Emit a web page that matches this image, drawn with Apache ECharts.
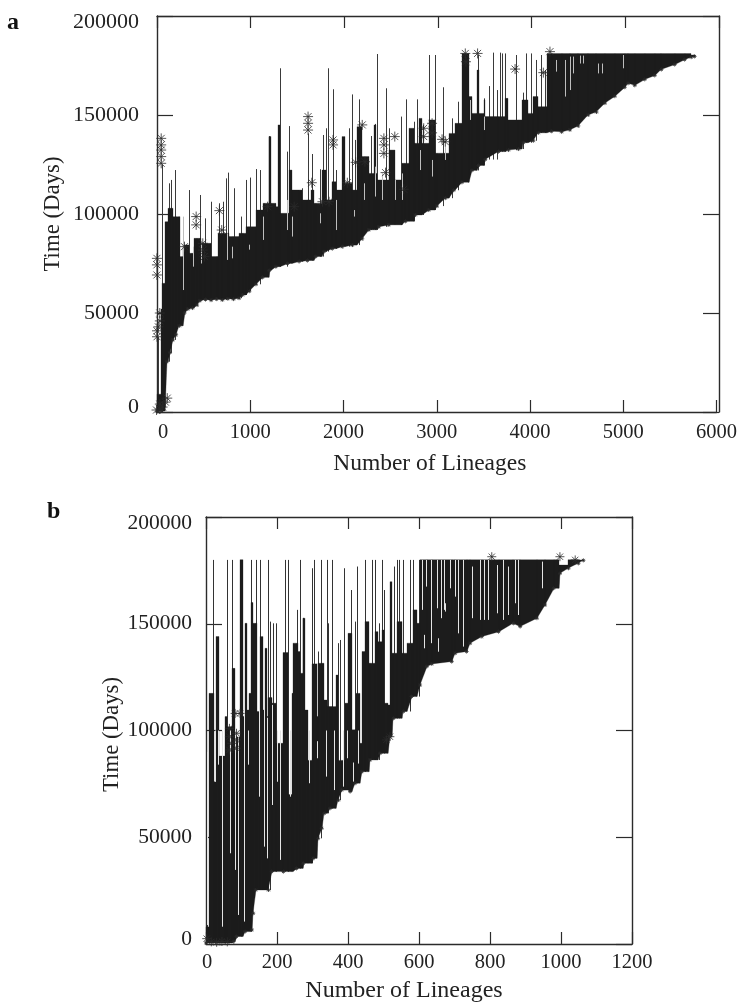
<!DOCTYPE html>
<html><head><meta charset="utf-8">
<style>html,body{margin:0;padding:0;background:#fff}#c{width:740px;height:1007px;filter:blur(0.35px)}</style>
<script src="https://cdn.jsdelivr.net/npm/echarts@6/dist/echarts.min.js"></script>
</head><body><div id="c"></div>
<script>
const xTicksA = [0,1000,2000,3000,4000,5000,6000];
const xTicksB = [0,200,400,600,800,1000,1200];
const yTicks = [0,50000,100000,150000,200000];

// Panel a: top of the solid body
const upperAX = [0,46,49,81,117,170,241,277,348,402,473,580,651,776,883,954,1061,1132,1196,1221,1275,1300,1317,1417,1453,1560,1649,1684,1774,1809,1880,1916,1987,2016,2094,2148,2201,2272,2326,2351,2362,2486,2557,2629,2700,2753,2807,2842,2914,2985,3128,3199,3270,3342,3377,3431,3448,3502,3520,3733,3769,3912,3983,4036,4090,4179,5729,5765];
const upperAY = [9000,52000,65000,96100,102900,98660,78500,84400,80150,87700,85200,78500,90250,88600,90250,93600,102000,105400,139100,105400,103700,145000,100350,122200,112100,107100,112100,105400,122200,107100,116300,112100,139100,115500,112100,144100,129000,120500,145000,120500,117200,132300,117200,125600,143300,135700,148300,135700,147500,130700,140700,145800,181000,159300,150800,172700,150800,157600,149200,158400,147500,157600,150800,159300,154200,181000,180300,180000];
// Panel a: bottom of the solid body
const lowerAX = [0,46,106,140,170,205,240,295,330,380,430,460,520,580,640,700,760,820,880,918,990,1061,1132,1203,1275,1400,1524,1613,1702,1791,1880,1987,2094,2201,2272,2379,2486,2664,2771,2914,3003,3092,3181,3270,3377,3448,3520,3662,3769,3876,3929,4036,4090,4232,4339,4428,4518,4624,4713,4803,4909,5016,5052,5123,5230,5337,5409,5551,5658,5729,5765];
const lowerAY = [300,500,25400,30000,36400,39000,43500,50000,52000,52500,54000,56200,56800,56500,57000,56600,57200,57000,57500,59100,61000,64500,68000,71500,73400,75000,76000,76500,78500,81000,82500,83500,84300,87500,92000,93500,94500,96300,99500,102000,104000,108000,112000,116000,122000,124500,127500,131500,132300,132800,136000,137000,141000,141800,141500,142500,144500,150000,151500,156000,159500,164000,166000,165000,168000,170000,173000,175500,178000,179200,179600];
// Panel a: thin lines rising above the body
const spikeAX = [8,49,124,152,192,348,462,516,584,662,712,740,765,829,897,958,1000,1061,1100,1314,1392,1417,1556,1617,1667,1749,1781,1809,1838,1891,1916,2059,2087,2123,2162,2297,2333,2358,2451,2493,2618,2671,2757,2793,2857,2914,2985,3064,3163,3228,3334,3438,3509,3562,3598,3641,3673,3705,3733,3847,3922,3958,4008,4061,4118,4161];
const spikeAY = [38000,125000,115500,117200,122200,112100,109600,97800,106200,105400,106200,118000,120900,113000,98700,117200,118400,122700,122200,173600,131500,144400,113000,140700,130300,122600,139900,143300,173600,163000,122200,143300,160400,137400,157900,139400,145500,180800,163500,143300,149200,157900,146600,157900,145000,180300,180300,164000,148300,156700,173600,180300,158400,164600,181500,162600,181500,181100,181100,180300,161300,181100,181100,177800,180300,172700];
// Panel a: pale slits inside the body
const gapAX = [277,384,473,751,804,990,1132,1389,1453,1745,1916,2112,2219,2337,2415,2557,2629,2825,2950,3092,3359,3502,4275,4375,4428,4464,4535,4571,4731,4767,4998];
const gapALow = [61600,73400,75000,76800,77600,82000,86900,91900,88600,95300,91900,98700,107100,108800,107100,107100,107100,122200,118900,127300,147500,142400,171900,159300,162600,171000,176000,176000,171000,171000,173600];
const gapAHigh = [98660,83500,85000,90250,83500,84500,98700,107100,98700,100350,107100,102000,115500,123900,120500,117200,120500,132300,127300,134000,157600,149200,177800,177800,179500,179500,180000,180000,176000,176000,180300];
// Panel a: asterisk marks
const starAX = [45,45,45,45,45,-1,-1,-1,1620,1620,1620,1888,1888,295,420,420,669,694,491,491,509,2201,1660,2041,2130,2230,2433,2433,2433,2550,2451,2860,2860,1774,1845,1186,1471,2646,3306,3313,3438,3840,4143,4214,3057,3092,2950,2950,0,0,-5,30,30,60,90,110,30,30,15];
const starAY = [138200,134900,132300,129000,125600,77600,74300,69200,149200,145800,142400,137400,134900,83500,98700,94500,101700,91900,85200,81800,78500,145000,115800,115800,126100,126400,138200,134900,130600,139100,120900,143300,139100,106200,106200,103700,103700,112500,181100,176900,181100,173200,171400,182000,137700,136500,145800,141000,41000,38000,1000,1500,4000,2500,5000,7000,46000,50000,43000];

// Panel b: top of the solid body
const upperBX = [0,9,23,28,37,54,60,74,82,96,103,110,115,122,127,133,143,152,160,166,171,176,185,197,218,232,241,246,257,265,272,279,288,298,312,316,333,340,354,365,373,392,399,410,422,434,439,448,459,476,485,495,502,512,518,525,537,553,567,582,593,603,993,1021,1049,1063];
const upperBY = [8000,117400,76000,144000,88000,106500,101800,129100,97000,180000,106500,150200,109600,117400,159900,150200,108900,144000,109600,138500,106500,115400,112800,94000,136500,70000,117400,140900,137000,126800,152600,109600,86000,131200,106500,131500,114300,111200,111200,126000,86000,112800,145500,100300,117400,94000,137000,151000,131500,146300,141600,147100,112800,112000,169700,136200,151000,136200,140900,156500,150200,180000,177500,180000,179900,179900];
// Panel b: bottom of the solid body
const lowerBX = [0,77,86,110,129,133,140,176,185,218,255,274,302,316,326,333,349,373,382,406,420,439,462,490,518,528,556,579,603,622,636,692,702,734,744,777,824,866,885,932,955,979,997,1021,1049,1063];
const lowerBY = [500,1100,3500,5800,6600,14400,25300,25300,33900,33900,35400,37800,40100,49500,54200,61200,63500,67400,72100,71400,75300,80700,86200,89300,97100,105700,108900,115900,121300,130000,131200,132300,136200,137000,140900,144000,146300,150200,148700,152600,158800,166600,173600,176000,178300,179700];
// Panel b: thin lines rising above the body
const spikeBX = [2,19,60,74,99,127,141,152,175,180,188,196,223,231,257,264,298,304,316,324,341,345,356,373,378,389,409,420,426,449,468,477,486,497,500,522,530,537,545,556,575,582,601];
const spikeBY = [49500,179900,179900,179900,179900,179900,179900,179900,179900,151000,150200,150200,179900,179900,156500,179900,176000,179900,137000,179900,179900,150200,179900,140900,142400,176000,165800,151000,176800,179900,179900,179900,150200,179900,165800,150000,176800,179900,179900,179900,179900,179900,179900];
// Panel b: pale slits inside the body
const gapBX = [4,24,35,44,68,82,89,108,119,149,163,171,185,201,209,237,290,312,337,361,385,396,415,429,608,615,619,634,652,653,661,671,672,688,702,711,725,749,772,783,794,819,838,852,871,880,946];
const gapBLow = [8900,76000,84000,8100,42500,34700,13600,10500,84000,69000,45600,40100,65100,76000,39400,69000,75300,87000,78400,72100,73700,87000,76000,84500,156500,138500,167400,140900,157250,136900,152600,156500,155700,166600,162700,145500,139300,152600,151800,151800,151800,154900,151800,154100,159600,154100,166600];
const gapBHigh = [90000,100000,100000,100000,100000,100000,100000,110000,100000,110000,110000,106000,112000,100000,100000,100000,100000,95000,100000,100000,100000,100000,85000,100000,179900,144800,179900,179900,179900,143200,179900,179900,159600,179900,179900,179900,179900,176800,179900,179900,179900,177500,179900,176800,179900,179900,179100];
// Panel b: asterisk marks
const starBX = [96,82,66,66,72,86,86,86,66,518,508,805,997,1040,2,15,30,45,60];
const starBY = [108000,108000,101000,97100,94000,98700,95600,91700,90900,97100,95600,181400,181400,179900,2500,1000,800,1200,1000];

const FONT = '"Liberation Serif",serif';
const INK = '#1c1c1c';

function stepAt(x, X, Y) {
  let v = Y[0];
  for (let i = 0; i < X.length; i++) { if (X[i] <= x) v = Y[i]; else break; }
  return v;
}
function columns(uX, uY, lX, lY) {
  const xs = Array.from(new Set(uX.concat(lX))).sort((a, b) => a - b);
  const out = [];
  for (let i = 0; i < xs.length - 1; i++) {
    const lo = stepAt(xs[i], lX, lY), lo2 = stepAt(xs[i + 1], lX, lY), hi = stepAt(xs[i], uX, uY);
    if (hi > lo) out.push([xs[i], xs[i + 1], lo, lo2, hi]);
  }
  return out;
}
function bodySeries(data, idx) {
  return { type: 'custom', xAxisIndex: idx, yAxisIndex: idx, silent: true, clip: false, z: 2, encode: { x: 0, y: 4 },
    renderItem(p, api) {
      const tl = api.coord([api.value(0), api.value(4)]), tr = api.coord([api.value(1), api.value(4)]);
      const bl = api.coord([api.value(0), api.value(2)]), br = api.coord([api.value(1), api.value(3)]);
      const x0 = Math.round(tl[0]), x1 = Math.max(Math.round(tr[0]), x0 + 1);
      return { type: 'polygon', shape: { points: [[x0, tl[1]], [x1, tr[1]], [x1, br[1]], [x0, bl[1]]] }, style: { fill: INK, stroke: INK, lineWidth: 0.3 } };
    }, data };
}
function lineSeries(data, idx, color, width, z) {
  return { type: 'custom', xAxisIndex: idx, yAxisIndex: idx, silent: true, clip: false, z, encode: { x: 0, y: 2 },
    renderItem(p, api) {
      const a = api.coord([api.value(0), api.value(1)]), b = api.coord([api.value(0), api.value(2)]);
      const x = Math.round(a[0]) + 0.5;
      return { type: 'line', shape: { x1: x, y1: a[1], x2: x, y2: b[1] }, style: { stroke: color, lineWidth: width } };
    }, data };
}
const ASTER = 'path://M0 -5L0 5M-5 0L5 0M-3.5 -3.5L3.5 3.5M-3.5 3.5L3.5 -3.5';
function starSeries(X, Y, idx, size) {
  return { type: 'scatter', xAxisIndex: idx, yAxisIndex: idx, silent: true, clip: false, z: 5, symbol: ASTER, symbolSize: size,
    itemStyle: { color: 'rgba(0,0,0,0)', borderColor: '#2a2a2a', borderWidth: 1 }, data: X.map((x, i) => [x, Y[i]]) };
}
const zip3 = (X, L, H) => X.map((x, i) => [x, L[i], H[i]]);
const spikes = (X, Y, lX, lY) => X.map((x, i) => [x, Math.max(stepAt(x, lX, lY), 0), Y[i]]);

const axisLine = { show: true, onZero: false, lineStyle: { color: '#2b2b2b', width: 1.4 } };
const tickStyle = { color: '#2b2b2b', width: 1.2 };
const label = { color: '#222', fontFamily: FONT, fontSize: 20.5 };
function xAxis(grid, max, interval, pos, ticksLen, margin, gap, show, zeroPad, namePad, nameSize) {
  return { type: 'value', gridIndex: grid, position: pos, min: 0, max, interval, splitLine: { show: false },
    axisLine, axisTick: { inside: true, length: ticksLen, lineStyle: tickStyle },
    axisLabel: show ? { ...label, margin, formatter: v => v === 0 ? '{z|0}' : String(v), rich: { z: { ...label, padding: [0, 0, 0, zeroPad] } } } : { show: false },
    name: show ? 'Number of Lineages' : '', nameLocation: 'middle', nameGap: gap, nameMoveOverlap: false,
    nameTextStyle: { ...label, fontSize: nameSize || 22, padding: [0, namePad, 0, 0] } };
}
function yAxis(grid, pos, margin, gap, show, namePad, labelSize) {
  const l = { ...label, fontSize: labelSize || 20 };
  return { type: 'value', gridIndex: grid, position: pos, min: 0, max: 200000, interval: 50000, splitLine: { show: false },
    axisLine, axisTick: { inside: true, length: 16, lineStyle: tickStyle },
    axisLabel: show ? { ...l, margin, formatter: v => v === 0 ? '{z|0}' : v === 200000 ? '{t|200000}' : String(v),
      rich: { z: { ...l, padding: [0, 0, 9, 0] }, t: { ...l, padding: [12, 0, 0, 0] } } } : { show: false },
    name: show ? 'Time (Days)' : '', nameLocation: 'middle', nameGap: gap, nameMoveOverlap: false,
    nameTextStyle: { ...label, fontSize: 22.8, padding: [0, namePad, 0, 0] } };
}

const chart = echarts.init(document.getElementById('c'), null, { renderer: 'canvas' });
chart.setOption({
  animation: false,
  backgroundColor: '#fff',
  grid: [
    { left: 157, top: 16, width: 562, height: 396 },
    { left: 206, top: 517, width: 426, height: 427 },
    { left: 157, top: 16, width: 562, height: 396 },
    { left: 206, top: 517, width: 426, height: 427 }
  ],
  xAxis: [
    xAxis(0, 6000, 1000, 'bottom', 12, 10, 40, true, 12, 14, 23.5),
    xAxis(1, 1200, 200, 'bottom', 12, 8, 35, true, 2, 30, 24),
    xAxis(2, 6000, 1000, 'top', 12, 0, 0, false, 0, 0),
    xAxis(3, 1200, 200, 'top', 12, 0, 0, false, 0, 0)
  ],
  yAxis: [
    yAxis(0, 'left', 18, 92, true, 0, 22),
    yAxis(1, 'left', 14, 82, true, 8, 21.5),
    yAxis(2, 'right', 0, 0, false, 0),
    yAxis(3, 'right', 0, 0, false, 0)
  ],
  series: [
    lineSeries(spikes(spikeAX, spikeAY, lowerAX, lowerAY), 0, '#3a3a3a', 1, 1),
    bodySeries(columns(upperAX, upperAY, lowerAX, lowerAY), 0),
    lineSeries(zip3(gapAX, gapALow, gapAHigh), 0, '#bdbdbd', 1, 4),
    starSeries(starAX, starAY, 0, 10),
    starSeries(lowerAX, lowerAY, 0, 4),
    lineSeries(spikes(spikeBX, spikeBY, lowerBX, lowerBY), 1, '#333', 1, 1),
    bodySeries(columns(upperBX, upperBY, lowerBX, lowerBY), 1),
    lineSeries(zip3(gapBX, gapBLow, gapBHigh), 1, '#e4e4e4', 1, 4),
    starSeries(starBX, starBY, 1, 9),
    starSeries(lowerBX, lowerBY, 1, 4)
  ],
  graphic: [
    { type: 'text', left: 7, top: 11, style: { text: 'a', font: 'bold 24px "Liberation Serif",serif', fill: '#111' } },
    { type: 'text', left: 47, top: 500, style: { text: 'b', font: 'bold 24px "Liberation Serif",serif', fill: '#111' } }
  ]
});
</script></body></html>
